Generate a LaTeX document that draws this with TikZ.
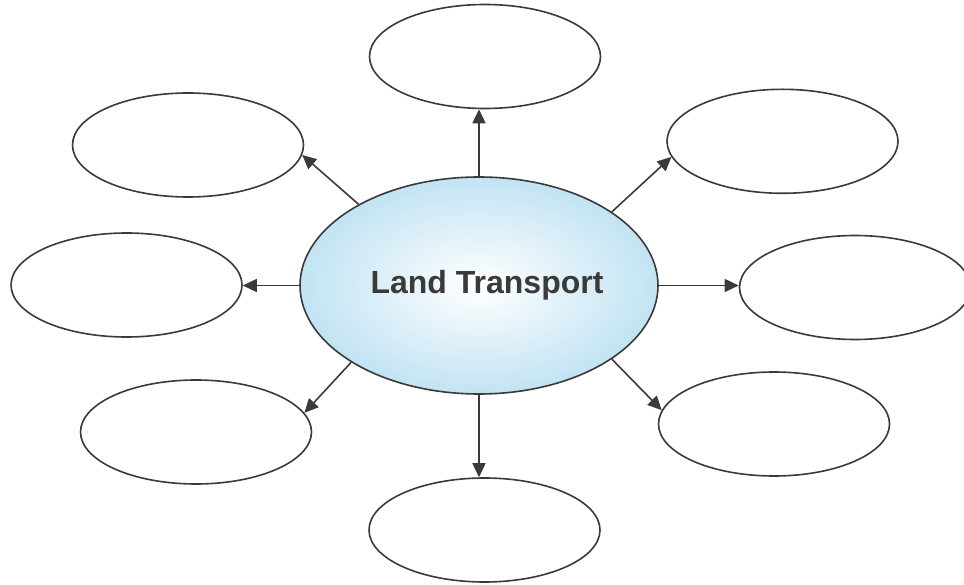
\documentclass[tikz,border=0pt]{standalone}
\usepackage{fontspec}
\setmainfont{Liberation Sans}
\usetikzlibrary{shapes.geometric,arrows.meta}
\definecolor{linegray}{HTML}{3A3A3A}
\definecolor{paleblue}{HTML}{C2E3F3}

\begin{document}
\begin{tikzpicture}[x=1pt, y=-1pt,
		bubble/.style={ellipse, draw=linegray, line width=1.6pt, fill=white, minimum width=231pt, minimum height=104pt, inner sep=0pt},
		hub/.style={ellipse, draw=linegray, line width=1.6pt, inner color=white, outer color=paleblue, minimum width=358pt, minimum height=217pt, inner sep=0pt},
		link/.style={draw=linegray, line width=1.6pt, -{Triangle[length=14pt, width=13pt]}}]
		%%%%% START %%%%%

		\useasboundingbox (0, 0) rectangle (964, 585);

		\node[hub] (land) at (479, 285.5) {};
		\node[text=linegray, font=\bfseries\fontsize{32}{38}\selectfont] (title) at (487, 285) {Land Transport};

		\node[bubble] (top) at (485, 56.5) {};
		\node[bubble] (upleft) at (188, 145) {};
		\node[bubble] (upright) at (782.5, 141.3) {};
		\node[bubble] (left) at (126.5, 285) {};
		\node[bubble] (right) at (855, 287.5) {};
		\node[bubble] (lowleft) at (196, 432) {};
		\node[bubble] (lowright) at (774, 424) {};
		\node[bubble] (bottom) at (484.5, 530) {};

		\draw[link] (land.north) -- (land.north |- top.south);
		\draw[link] (land.146) -- (upleft.-5);
		\draw[link] (land.29) -- (upright.188);
		\draw[link] (land.west) -- (land.west -| left.east);
		\draw[link] (land.east) -- (land.east -| right.west);
		\draw[link] (land.-149) -- (lowleft.10);
		\draw[link] (land.-29) -- (lowright.173);
		\draw[link] (land.south) -- (land.south |- bottom.north);

		%%%%% END %%%%%
	\end{tikzpicture}
\end{document}
